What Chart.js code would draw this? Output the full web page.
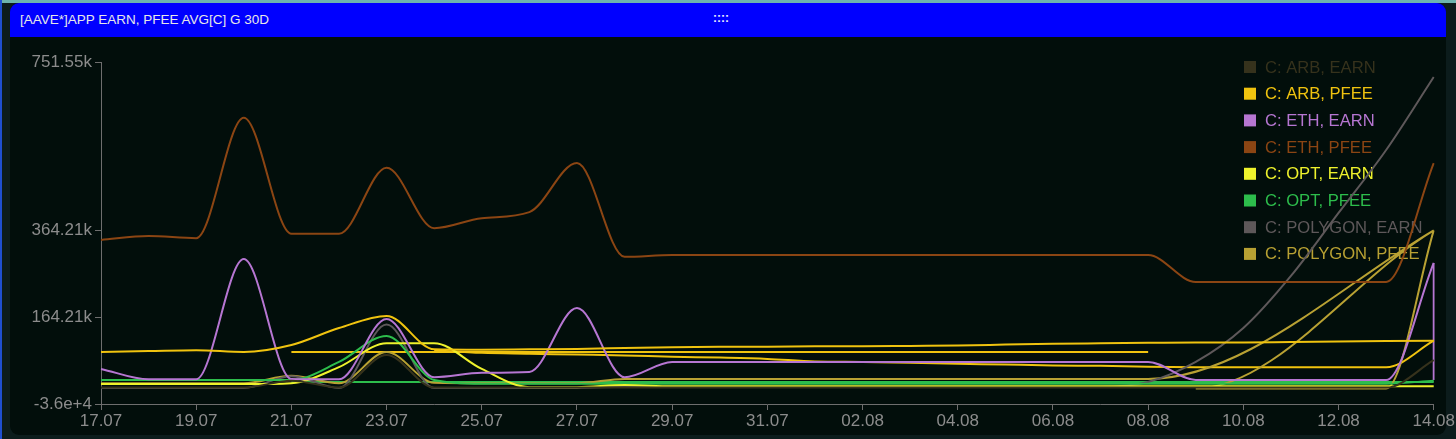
<!DOCTYPE html>
<html>
<head>
<meta charset="utf-8">
<script src="https://cdn.jsdelivr.net/npm/chart.js@4.4.0/dist/chart.umd.min.js"></script>
<style>
  html, body { margin: 0; padding: 0; width: 1456px; height: 439px; overflow: hidden; background: #0c1c1c; }
  #topline { position: absolute; left: 0; top: 0; width: 1456px; height: 3px; background: #6db4ae; }
  #leftline { position: absolute; left: 0; top: 0; width: 2px; height: 439px; background: #1f4fd0; }
  #panel { position: absolute; left: 10px; top: 3px; width: 1436px; height: 432px; background: #020e0b; border-radius: 9px; }
  #header { position: absolute; left: 10px; top: 3px; width: 1436px; height: 34px; background: #0000ff; border-radius: 9px 9px 0 0; }
  #title { position: absolute; left: 20px; top: 12px; font: 13.5px "Liberation Sans", Arial, sans-serif; color: #e8e8e8; white-space: nowrap; }
  #grip { position: absolute; left: 713px; top: 11px; font: bold 12px "Liberation Sans", Arial, sans-serif; color: #e8e8ff; }
  #wrap { position: absolute; left: 10px; top: 37px; width: 1446px; height: 398px; }
</style>
</head>
<body>
<div id="topline"></div>
<div id="leftline"></div>
<div id="panel"></div>
<div id="header"></div>
<div id="title">[AAVE*]APP EARN, PFEE AVG[C] G 30D</div>
<div id="grip">::::</div>
<div id="wrap"><canvas id="chart" width="1446" height="398"></canvas></div>
<script>
const dates = ['17.07','18.07','19.07','20.07','21.07','22.07','23.07','24.07','25.07','26.07',
  '27.07','28.07','29.07','30.07','31.07','01.08','02.08','03.08','04.08','05.08',
  '06.08','07.08','08.08','09.08','10.08','11.08','12.08','13.08','14.08'];

const yTicks = [-35790, 164210, 364210, 751550];
const yTickLabels = ['-3.6e+4', '164.21k', '364.21k', '751.55k'];

const arbEarn = [2000, 2000, 2000, 2000, 18000, 2000, 77000, 2000, 2000, 2000,
  2000, 2000, 2000, 2000, 2000, 2000, 2000, 2000, 2000, 2000,
  2000, 2000, 2000, 2000, 2000, 2000, 2000, 2000, 65000];
const arbPfee = [84000, 86000, 88000, 84000, 100000, 139000, 167000, 90000, 89000, 90000,
  91000, 93000, 95000, 96000, 96000, 97000, 97000, 98000, 99000, 101000,
  103000, 104000, 105000, 106000, 106000, 107000, 108000, 109000, 110000];
const arbPfeeFlat = [null, null, null, null, 84000, 84000, 84000, 84000, 84000, 84000,
  84000, 84000, 84000, 84000, 84000, 84000, 84000, 84000, 84000, 84000,
  84000, 84000, 84000, null, null, null, null, null, null];
const arbPfeeLow = [null, null, null, null, null, null, null, 88000, 82000, 80000,
  78000, 76000, 73000, 71000, 68000, 62000, 61000, 59000, 57000, 55000,
  53000, 52000, 50000, 49000, 49000, 49000, 49000, 49000, 110000];
const ethEarn = [45000, 21000, 21000, 298000, 22000, 21000, 160000, 26000, 36000, 38000,
  185000, 26000, 61000, 61000, 61000, 61000, 61000, 61000, 61000, 61000,
  61000, 61000, 61000, 19500, 19500, 19500, 19500, 19500, 289000];
const ethEarnDrop = [289000, 19500];
const ethPfee = [342000, 351000, 346000, 623000, 356000, 356000, 508000, 369000, 392000, 406000,
  519000, 303000, 307000, 307000, 307000, 307000, 307000, 307000, 307000, 307000,
  307000, 307000, 307000, 245000, 245000, 245000, 245000, 245000, 519000];
const optEarn = [10000, 10000, 10000, 10000, 12000, 49000, 104000, 104000, 45000, 3000,
  3000, 8000, 5000, 5000, 5000, 5000, 5000, 5000, 5000, 5000,
  5000, 5000, 5000, 5000, 5000, 5000, 5000, 5000, 5000];
const optPfee = [19500, 19500, 19500, 19500, 19500, 61000, 121000, 19500, 11000, 11000,
  11000, 11000, 11000, 11000, 11000, 11000, 11000, 11000, 11000, 11000,
  11000, 11000, 11000, 11000, 11000, 11000, 11000, 11000, 18000];
const optPfeeFlat = [null, null, null, null, 15000, 15000, 15000, 15000, 15000, 15000,
  15000, 15000, 15000, 15000, 15000, 15000, 15000, 15000, 15000, 15000,
  15000, 15000, 15000, 15000, 15000, 15000, 15000, 15000, 15000];
const polygonEarn = [1000, 1000, 1000, 1000, 28000, 1000, 147000, 1000, 1000, 1000,
  1000, 4000, 4000, 4000, 4000, 4000, 4000, 4000, 4000, 4000,
  4000, 4000, 15000, 61000, 139000, 259000, 404000, 549000, 717000];
const polygonPfee = [12000, 12000, 12000, 12000, 29000, 12000, 84000, 13000, 12000, 12000,
  12000, 22000, 22000, 22000, 22000, 22000, 22000, 22000, 22000, 22000,
  22000, 22000, 22000, null, null, null, null, null, 364000];
const polygonPfeeTailDates = ['09.08', '10.08', '11.08', '12.08', '13.08', '14.08'];
const polygonPfeeTail = [0, 0, 0, 0, 0, 364000];

const colors = {
  arbEarn: '#36321c',
  arbPfee: '#f0c30f',
  ethEarn: '#b676d2',
  ethPfee: '#8b4513',
  optEarn: '#eef22c',
  optPfee: '#2dbd4c',
  polygonEarn: '#5e585a',
  polygonPfee: '#b8a133'
};

function toPoints(values) {
  return values.map((v, i) => v === null ? null : { x: dates[i], y: v }).filter(p => p);
}

const polygonPfeeData = toPoints(polygonPfee).concat(
  polygonPfeeTail.map((v, i) => ({ x: polygonPfeeTailDates[i], y: v })));

function line(label, data, color, extra) {
  return {
    label: label,
    data: data,
    borderColor: color,
    backgroundColor: color,
    borderWidth: 2,
    pointRadius: 0,
    fill: false,
    cubicInterpolationMode: 'monotone',
    spanGaps: true,
    extra: !!extra
  };
}

const datasets = [
  line('C: ARB, EARN', arbEarn, colors.arbEarn),
  line('C: ARB, PFEE', arbPfee, colors.arbPfee),
  line('C: ETH, EARN', ethEarn, colors.ethEarn),
  line('C: ETH, PFEE', ethPfee, colors.ethPfee),
  line('C: OPT, EARN', optEarn, colors.optEarn),
  line('C: OPT, PFEE', optPfee, colors.optPfee),
  line('C: POLYGON, EARN', polygonEarn, colors.polygonEarn),
  line('C: POLYGON, PFEE', polygonPfeeData, colors.polygonPfee),
  line('C: ARB, PFEE', arbPfeeFlat, colors.arbPfee, true),
  line('C: ARB, PFEE', arbPfeeLow, colors.arbPfee, true),
  line('C: OPT, PFEE', optPfeeFlat, colors.optPfee, true),
  Object.assign(line('C: ETH, EARN',
    ethEarnDrop.map(v => ({ x: '14.08', y: v })), colors.ethEarn, true),
    { cubicInterpolationMode: 'default', tension: 0 })
];

// legend drawn inside the plot, top right, under the lines
const cornerLegend = {
  id: 'cornerLegend',
  beforeDatasetsDraw(chart) {
    const ctx = chart.ctx;
    const area = chart.chartArea;
    ctx.save();
    ctx.font = '16.6px "Liberation Sans", Arial, sans-serif';
    ctx.textBaseline = 'middle';
    chart.data.datasets.filter(d => !d.extra).forEach((d, i) => {
      const y = area.top + 5 + i * 26.7;
      const x = area.left + 1143;
      ctx.fillStyle = d.borderColor;
      ctx.fillRect(x, y - 6, 12, 12);
      ctx.fillText(d.label, x + 21, y + 1);
    });
    ctx.restore();
  }
};

const axisColor = '#6e6e6e';
const tickFont = { family: '"Liberation Sans", Arial, sans-serif', size: 17 };

new Chart(document.getElementById('chart'), {
  type: 'line',
  data: { labels: dates, datasets: datasets },
  plugins: [cornerLegend],
  options: {
    responsive: false,
    animation: false,
    layout: { padding: { top: 25, right: 21, left: 0, bottom: 0 } },
    plugins: {
      legend: { display: false },
      tooltip: { enabled: false }
    },
    scales: {
      x: {
        type: 'category',
        offset: false,
        afterFit: s => { s.height = 31; },
        grid: { drawOnChartArea: false, color: axisColor, tickLength: 6 },
        border: { color: axisColor, width: 1 },
        ticks: {
          color: '#8c8c8c', font: tickFont, padding: 1,
          autoSkip: false, maxRotation: 0,
          callback: (v, i) => i % 2 === 0 ? dates[i] : null
        }
      },
      y: {
        min: yTicks[0],
        max: yTicks[yTicks.length - 1],
        afterFit: s => { s.width = 91; },
        afterBuildTicks: s => { s.ticks = yTicks.map(v => ({ value: v })); },
        grid: { drawOnChartArea: false, color: axisColor, tickLength: 6 },
        border: { color: axisColor, width: 1 },
        ticks: {
          color: '#8c8c8c', font: tickFont, padding: 3,
          callback: v => yTickLabels[yTicks.indexOf(v)]
        }
      }
    }
  }
});
</script>
</body>
</html>
